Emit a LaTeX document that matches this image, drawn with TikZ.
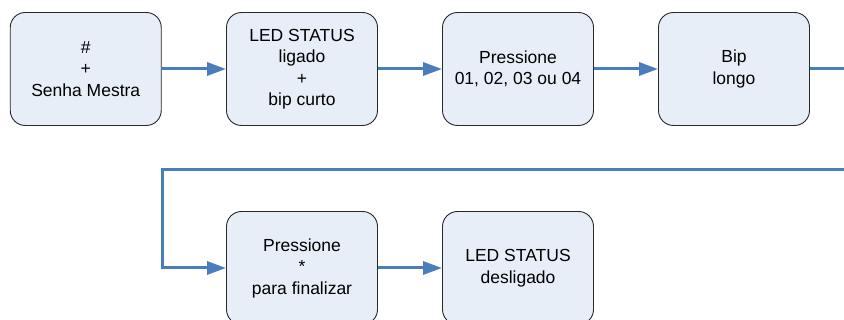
\documentclass[tikz,border=0pt]{standalone}
\usepackage{fontspec}
\setmainfont{Liberation Sans}
\usetikzlibrary{arrows.meta}
\definecolor{boxfill}{RGB}{232,238,247}
\definecolor{boxline}{RGB}{40,40,40}
\definecolor{flow}{RGB}{74,126,187}
\tikzset{
  stepbox/.style={draw=boxline, line width=0.9pt, fill=boxfill, rounded corners=15pt,
    minimum width=151pt, minimum height=113pt, align=center, inner sep=0pt,
    font=\fontsize{17.5}{21.5}\selectfont},
  flowline/.style={draw=flow, line width=3pt},
  flowarrow/.style={flowline, -{Triangle[length=19pt,width=13pt]}}
}
\begin{document}
\begin{tikzpicture}[x=1pt,y=-1pt]
\useasboundingbox (0,0) rectangle (844,320);
\clip (0,0) rectangle (844,320);
\node[stepbox] (b1) at (85.75,69) {\#\\+\\Senha Mestra};
\node[stepbox] (b2) at (302,69) {LED STATUS\\ligado\\+\\bip curto};
\node[stepbox] (b3) at (518,69) {Pressione\\01, 02, 03 ou 04};
\node[stepbox] (b4) at (734,69) {Bip\\longo};
\node[stepbox] (b5) at (302,268) {Pressione\\*\\para finalizar};
\node[stepbox] (b6) at (518,268) {LED STATUS\\desligado};
\coordinate (e1) at (846,69);
\coordinate (e2) at (846,170);
\coordinate (c) at (162,170);
\draw[flowarrow] (b1.east) -- (b2.west);
\draw[flowarrow] (b2.east) -- (b3.west);
\draw[flowarrow] (b3.east) -- (b4.west);
\draw[flowline] (b4.east) -- (e1);
\draw[flowarrow] (e2) -- (c) |- (b5.west);
\draw[flowarrow] (b5.east) -- (b6.west);
\end{tikzpicture}
\end{document}
